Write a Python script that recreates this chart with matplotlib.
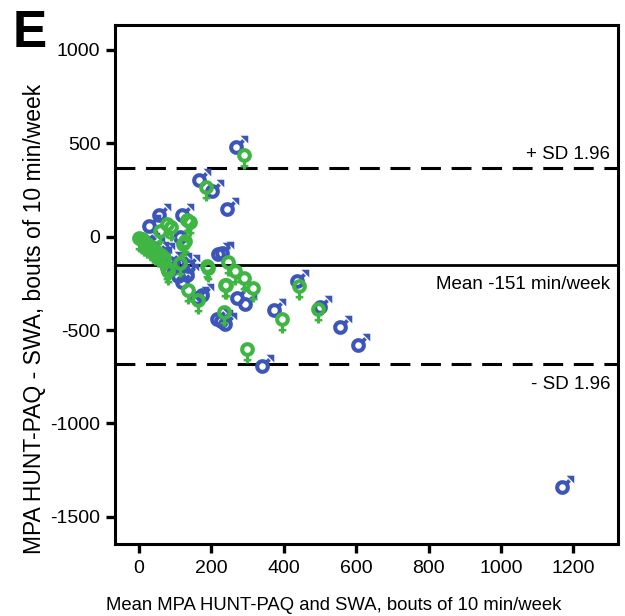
import numpy as np
import matplotlib
matplotlib.use("Agg")
import matplotlib.pyplot as plt
from matplotlib.path import Path
from matplotlib.markers import MarkerStyle

plt.rcParams['font.family'] = ['Liberation Sans', 'DejaVu Sans']
plt.rcParams['axes.unicode_minus'] = False

# ---- data ----
male_x = [268, 166, 203, 242, 56, 29, 118, 113, 58, 219, 113, 108, 66, 132, 173, 160,
          270, 293, 215, 238, 228, 372, 437, 501, 556, 606, 339, 1168, 40, 20, 136, 95,
          85, 120, 35, 50, 25, 229]
male_y = [478, 301, 246, 148, 114, 55, 118, -4, -112, -94, -148, -212, -94, -203, -311, -330,
          -330, -362, -440, -466, -450, -393, -239, -375, -484, -582, -690, -1338, -60, -30, -158, -170,
          -140, -240, -58, -85, -40, -85]
female_x = [290, 185, 77, 132, 58, 90, 127, 141, 113, 81, 192, 136, 164, 241, 247, 266,
            289, 314, 235, 395, 443, 495, 298, 123, 77, 187, 238,
            0, 5, 8, 12, 15, 22, 30, 38, 45, 52, 60, 68]
female_y = [435, 265, 69, 91, 33, 51, -22, 78, -140, -185, -167, -284, -339, -261, -136, -185,
            -221, -275, -402, -438, -266, -386, -600, -40, -167, -158, -257,
            -5, -10, -15, -20, -28, -40, -52, -65, -78, -90, -100, -115]

mean_diff = -151
upper_loa = 368
lower_loa = -680

x_ticks = [0, 200, 400, 600, 800, 1000, 1200]
y_ticks = [1000, 500, 0, -500, -1000, -1500]

blue = '#3b56b8'
green = '#3fb544'

# ---- marker paths ----
def ring(r_out=1.0, r_in=0.44, n=64):
    t = np.linspace(0, 2 * np.pi, n, endpoint=False)
    outer = np.c_[r_out * np.cos(t), r_out * np.sin(t)]
    inner = np.c_[r_in * np.cos(t), r_in * np.sin(t)][::-1]
    verts, codes = [], []
    for poly in (outer, inner):
        verts += list(poly) + [poly[0]]
        codes += [Path.MOVETO] + [Path.LINETO] * (len(poly) - 1) + [Path.CLOSEPOLY]
    return verts, codes

def poly(pts):
    pts = list(pts)
    return pts + [pts[0]], [Path.MOVETO] + [Path.LINETO] * (len(pts) - 1) + [Path.CLOSEPOLY]

def male_path():
    v, c = ring()
    w = 0.26
    d = np.array([1, 1]) / np.sqrt(2)
    p = np.array([-1, 1]) / np.sqrt(2)
    a, b = 0.9, 1.35
    stem = [d * a - p * w, d * b - p * w, d * b + p * w, d * a + p * w]
    sv, sc = poly(stem)
    tip = np.array([1.6, 1.6])
    L = 1.05
    head = [tip, tip - [L, 0], tip - [0, L]]
    hv, hc = poly(head[::-1])
    return Path(np.array(v + sv + hv), c + sc + hc)

def female_path():
    v, c = ring()
    w = 0.21
    stem = [(-w, -0.95), (w, -0.95), (w, -1.9), (-w, -1.9)][::-1]
    sv, sc = poly(stem)
    bar = [(-0.52, -1.28), (0.52, -1.28), (0.52, -1.62), (-0.52, -1.62)][::-1]
    bv, bc = poly(bar)
    return Path(np.array(v + sv + bv), c + sc + bc)

mp = male_path()
fp = female_path()
R = 5.3  # ring radius in points
ms_m = 2 * R * np.abs(mp.vertices).max()
ms_f = 2 * R * np.abs(fp.vertices).max()

# ---- figure ----
fig = plt.figure(figsize=(6.25, 6.16), dpi=100)
ax = fig.add_axes([115 / 625, 1 - 544 / 616, (618 - 115) / 625, (544 - 25) / 616])

ax.axhline(mean_diff, color='black', lw=2.0, zorder=1)
ax.axhline(upper_loa, color='black', lw=2.2, ls=(0, (6.5, 3.5)), zorder=1)
ax.axhline(lower_loa, color='black', lw=2.2, ls=(0, (6.5, 3.5)), zorder=1)

ax.plot(male_x, male_y, ls='none', marker=MarkerStyle(mp), ms=ms_m, mew=0, mfc=blue, zorder=3)
ax.plot(female_x, female_y, ls='none', marker=MarkerStyle(fp), ms=ms_f, mew=0, mfc=green, zorder=4)

ax.set_xlim(-66, 1323)
ax.set_ylim(-1645, 1133)
ax.set_xticks(x_ticks)
ax.set_yticks(y_ticks)
ax.tick_params(axis='both', direction='out', length=6.5, width=2.4, labelsize=14, pad=4)
ax.tick_params(axis='x', pad=5)
for s in ax.spines.values():
    s.set_linewidth(2.2)

ax.text(0.985, upper_loa + 25, '+ SD 1.96', transform=ax.get_yaxis_transform(),
        ha='right', va='bottom', fontsize=13.5)
ax.text(0.985, mean_diff - 60, 'Mean -151 min/week', transform=ax.get_yaxis_transform(),
        ha='right', va='top', fontsize=13.5)
ax.text(0.985, lower_loa - 65, '- SD 1.96', transform=ax.get_yaxis_transform(),
        ha='right', va='top', fontsize=13.5)

ax.set_xlabel('Mean MPA HUNT-PAQ and SWA, bouts of 10 min/week', fontsize=13.3)
ax.set_ylabel('MPA HUNT-PAQ - SWA, bouts of 10 min/week', fontsize=16.5)

# label positions in figure pixels -> axes coords
ax_l, ax_b, ax_w, ax_h = 115, 544, 618 - 115, 544 - 25
ax.xaxis.set_label_coords((334 - ax_l) / ax_w, (ax_b - 606) / ax_h)
ax.yaxis.set_label_coords((35 - ax_l) / ax_w, (ax_b - 319) / ax_h)
ax.xaxis.label.set_va('center')
ax.yaxis.label.set_va('center')

fig.text(13 / 625, 1 - 47 / 616, 'E', fontsize=37, fontweight='bold', ha='left', va='baseline')

fig.savefig('out.png', dpi=100)
